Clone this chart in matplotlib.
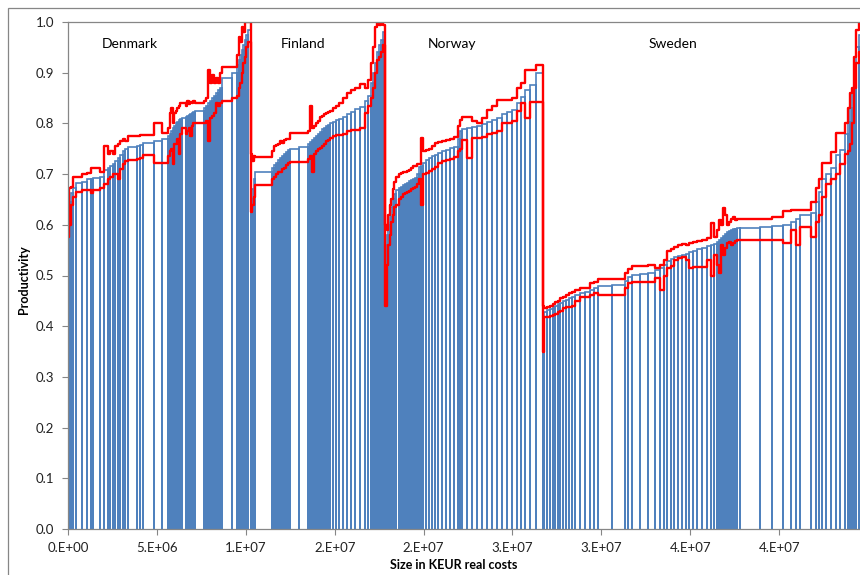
import numpy as np
import matplotlib
matplotlib.use("Agg")
import matplotlib.pyplot as plt
from matplotlib.patches import Rectangle

plt.rcParams['font.family'] = ['Lato', 'DejaVu Sans']

# firm size (million KEUR real costs), productivity and its lower / upper bound
# firms sorted by productivity within each country

dk_size = [.056, .113, .113, .169, .338, .281, .225, .113, .394, .225,
           .225, .113, .169, .113, .169, .113, .169, .113, .169, .506,
           .169, .169, .619, .450, .338,
           .084, .084, .084, .084, .084, .084, .084, .084, .084,
           .225,
           .084, .084, .084, .084, .084, .084,
           .506,
           .113, .113, .113, .113, .113, .113, .113, .113, .113,
           .563, .281, .113,
           .084, .084, .084, .084, .084, .084,
           .169]
dk_prod = [.585, .645, .663, .672, .683, .685, .690, .691, .692, .694,
           .708, .712, .716, .720, .725, .731, .738, .745, .750, .753,
           .756, .758, .762, .765, .769,
           .775, .780, .785, .790, .795, .800, .803, .806, .808,
           .810,
           .813, .815, .817, .818, .820, .822,
           .825,
           .830, .835, .840, .845, .850, .855, .860, .865, .870,
           .889, .900, .915,
           .925, .935, .945, .955, .965, .975,
           .985]
dk_lo = [.575, .600, .640, .655, .665, .668, .668, .662, .668, .672,
         .680, .690, .695, .700, .700, .690, .710, .720, .725, .728,
         .730, .732, .738, .722, .722,
         .735, .745, .750, .720, .760, .760, .770, .740, .780,
         .790,
         .780, .785, .790, .775, .795, .800,
         .800,
         .800, .805, .765, .810, .815, .820, .840, .835, .840,
         .845, .850, .855,
         .870, .880, .900, .920, .930, .950,
         .960]
dk_hi = [.595, .672, .675, .694, .695, .700, .703, .712, .712, .705,
         .755, .740, .745, .740, .755, .760, .765, .770, .765, .775,
         .775, .777, .777, .800, .782,
         .790, .820, .830, .800, .820, .825, .830, .835, .840,
         .840,
         .835, .845, .838, .842, .840, .845,
         .840,
         .845, .850, .905, .880, .895, .880, .890, .880, .900,
         .912, .912, .935,
         .970, .960, .990, .980, 1.0, 1.0,
         1.0]

fi_size = [.084, .084, .084, .956,
           .113, .113, .113, .113, .113, .113, .113, .113, .113,
           .506, .506,
           .113, .113, .113, .113, .113, .113, .113, .113, .113, .113, .113,
           .169, .169, .169, .225, .225, .225, .225, .281, .281,
           .169, .169,
           .113, .113, .113, .113, .113, .113, .113]
fi_prod = [.650, .670, .690, .705,
           .712, .718, .722, .727, .731, .735, .739, .743, .747,
           .750, .754,
           .760, .764, .768, .772, .776, .780, .784, .788, .791, .794, .797,
           .800, .803, .806, .809, .812, .818, .823, .828, .833,
           .845, .855,
           .880, .900, .920, .940, .955, .965, .980]
fi_lo = [.625, .640, .655, .678,
         .690, .695, .700, .705, .705, .710, .712, .718, .722,
         .724, .724,
         .730, .735, .705, .740, .745, .750, .752, .755, .760, .765, .768,
         .772, .775, .777, .777, .780, .785, .787, .787, .790,
         .820, .835,
         .850, .870, .900, .925, .930, .940, .955]
fi_hi = [.740, .725, .735, .734,
         .745, .755, .758, .760, .765, .762, .768, .770, .770,
         .781, .781,
         .785, .835, .790, .795, .800, .805, .812, .815, .818, .820, .822,
         .825, .830, .835, .840, .850, .860, .865, .870, .878,
         .870, .885,
         .920, .950, .990, 1.0, .995, 1.0, .995]

no_size = [.084, .084, .084, .084, .084, .084,
           .113, .169,
           .113, .113, .113, .113, .113, .113, .113, .113, .113, .113, .113,
           .084,
           .169, .169, .169, .169, .169,
           .225, .225, .225, .225, .225,
           .113, .113,
           .281, .281, .281, .281, .281, .281, .281, .281, .281, .281, .281,
           .225, .225, .281, .366, .394]
no_prod = [.560, .580, .600, .615, .635, .650,
           .660, .668,
           .672, .675, .678, .680, .683, .686, .688, .690, .692, .700, .714,
           .716,
           .722, .727, .731, .735, .738,
           .742, .745, .748, .751, .753,
           .770, .785,
           .789, .791, .793, .795, .798, .803, .807, .811, .818, .822, .826,
           .840, .852, .866, .876, .899]
no_lo = [.440, .520, .560, .580, .605, .620,
         .635, .640,
         .650, .655, .660, .663, .665, .667, .670, .672, .675, .680, .690,
         .640,
         .700, .703, .706, .710, .714,
         .722, .725, .728, .730, .734,
         .745, .750,
         .767, .732, .771, .771, .773, .780, .782, .785, .800, .800, .805,
         .825, .840, .810, .842, .842]
no_hi = [.600, .590, .620, .640, .650, .670,
         .685, .694,
         .700, .702, .705, .705, .707, .709, .712, .715, .715, .720, .720,
         .771,
         .745, .748, .750, .755, .761,
         .763, .765, .768, .770, .773,
         .795, .807,
         .813, .813, .805, .800, .810, .826, .835, .846, .846, .846, .850,
         .870, .880, .905, .905, .915]

se_size = [.056, .169, .169, .169, .113, .169, .113,
           .169, .169, .169, .169, .169,
           .281, .281, .281, .225, .225,
           .788, .731, .169, .225, .450, .450, .394, .281, .225, .169,
           .225, .169, .225, .225, .225, .169,
           .225, .225, .281, .281, .225,
           .169, .169, .113, .113, .113, .113, .113, .113,
           .113, .113, .113, .113, .169,
           1.125, .675, .563, .450, .281, .281, .563, .281,
           .169, .169, .225, .281, .281, .281, .281,
           .113, .113, .113, .113, .113, .169, .338]
se_prod = [.400, .428, .431, .434, .437, .440, .443,
           .446, .449, .452, .455, .458,
           .462, .465, .467, .472, .476,
           .480, .482, .490, .498, .501, .503, .505, .510, .514, .520,
           .528, .533, .536, .538, .540, .543,
           .546, .549, .552, .555, .558,
           .560, .562, .566, .570, .574, .578, .582, .585,
           .588, .590, .591, .592, .593,
           .594, .596, .598, .600, .606, .612, .619, .623,
           .645, .665, .690, .700, .712, .738, .747,
           .780, .803, .830, .860, .900, .951, .975]
se_lo = [.350, .418, .418, .420, .422, .425, .428,
         .430, .435, .437, .438, .440,
         .450, .458, .458, .462, .465,
         .461, .461, .475, .485, .487, .487, .488, .495, .471, .500,
         .515, .518, .530, .535, .536, .530,
         .515, .517, .517, .517, .530,
         .500, .540, .520, .505, .560, .540, .555, .565,
         .566, .560, .565, .568, .570,
         .570, .570, .570, .564, .590, .560, .596, .576,
         .606, .620, .655, .680, .690, .700, .720,
         .740, .745, .760, .800, .870, .920, .940]
se_hi = [.440, .436, .438, .440, .443, .448, .450,
         .455, .458, .462, .466, .468,
         .472, .475, .476, .485, .488,
         .493, .493, .505, .512, .518, .519, .520, .515, .520, .530,
         .548, .552, .556, .560, .563, .560,
         .565, .566, .568, .570, .574,
         .604, .575, .590, .610, .600, .633, .620, .600,
         .605, .612, .615, .610, .611,
         .611, .611, .615, .627, .629, .629, .629, .645,
         .672, .690, .722, .722, .744, .781, .781,
         .800, .830, .860, .870, .930, .985, 1.0]

countries = ['Denmark', 'Finland', 'Norway', 'Sweden']
label_x = [3.5e6, 13.2e6, 21.6e6, 34.0e6]

size = np.array(dk_size + fi_size + no_size + se_size) * 1e6
prod = np.array(dk_prod + fi_prod + no_prod + se_prod)
lo = np.array(dk_lo + fi_lo + no_lo + se_lo)
hi = np.array(dk_hi + fi_hi + no_hi + se_hi)

right = np.cumsum(size)
left = right - size

# bar outlines as one line (up, across, down for each firm)
bx = np.column_stack([left, left, right, right]).ravel()
by = np.column_stack([np.zeros_like(prod), prod, prod, np.zeros_like(prod)]).ravel()
# bounds as step lines
sx = np.column_stack([left, right]).ravel()
lo_y = np.repeat(lo, 2)
hi_y = np.repeat(hi, 2)

fig = plt.figure(figsize=(8.6, 5.75), dpi=100)
ax = fig.add_axes([68 / 860, 46 / 575, 1 - 68 / 860, 507 / 575])

ax.plot(bx, by, color='#4F81BD', lw=1.2, solid_joinstyle='miter')
ax.plot(sx, hi_y, color='#FF0000', lw=1.7)
ax.plot(sx, lo_y, color='#FF0000', lw=1.7)

for name, xc in zip(countries, label_x):
    ax.text(xc, 0.957, name, ha='center', va='center', fontsize=10, color='black')

ax.set_xlim(0, 4.455e7)
ax.set_ylim(0, 1.0)
xt = np.arange(0, 4.01e7, 5e6)
ax.set_xticks(xt)
ax.set_xticklabels(['0.E+00', '5.E+06', '1.E+07', '2.E+07', '2.E+07',
                    '3.E+07', '3.E+07', '4.E+07', '4.E+07'])
ax.set_yticks(np.arange(0, 1.01, 0.1))
ax.set_yticklabels(['%.1f' % v for v in np.arange(0, 1.01, 0.1)])
ax.tick_params(direction='out', length=4, width=0.8, color='#868686',
               labelsize=9.5, labelcolor='#222222')
ax.tick_params(axis='y', pad=6)
ax.tick_params(axis='x', pad=5)

for s in ['left', 'bottom', 'top']:
    ax.spines[s].set_color('#868686')
    ax.spines[s].set_linewidth(0.9)
ax.spines['right'].set_visible(False)

fig.text(24 / 860, 1 - 280 / 575, 'Productivity', rotation=90, ha='center',
         va='center', fontsize=9, fontweight='bold')
fig.text(454 / 860, 1 - 565 / 575, 'Size in KEUR real costs', ha='center',
         va='center', fontsize=9, fontweight='bold')

# chart area border
fig.patches.append(Rectangle((8 / 860, -0.1), 1.2, 1.1 - 8 / 575,
                             transform=fig.transFigure, fill=False,
                             edgecolor='#868686', lw=0.9))

fig.savefig('out.png', dpi=100)
